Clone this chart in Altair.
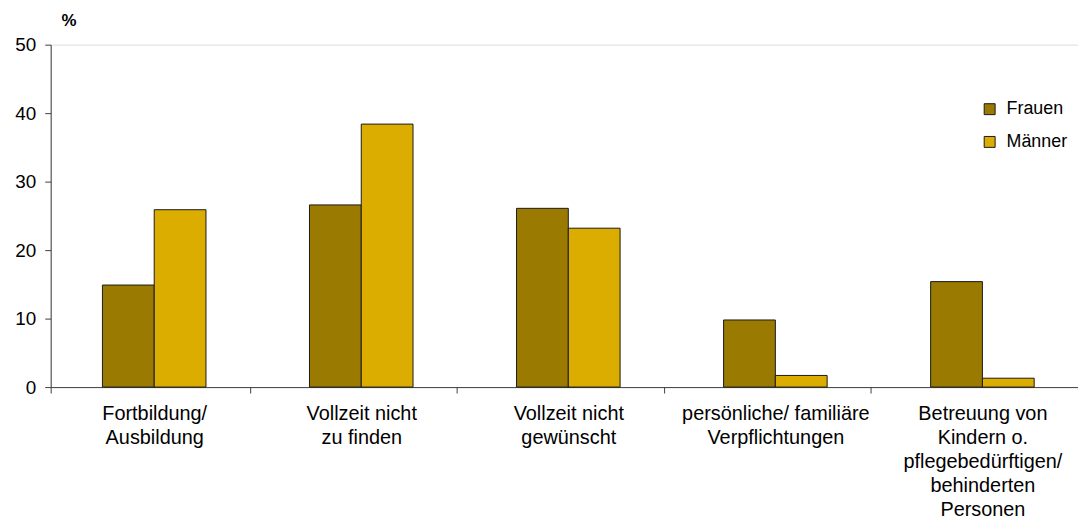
import altair as alt
import pandas as pd

categories = [
    "Fortbildung/|Ausbildung",
    "Vollzeit nicht|zu finden",
    "Vollzeit nicht|gewünscht",
    "persönliche/ familiäre|Verpflichtungen",
    "Betreuung von|Kindern o.|pflegebedürftigen/|behinderten|Personen",
]
frauen = [14.9, 26.6, 26.1, 9.8, 15.4]
maenner = [25.9, 38.4, 23.2, 1.7, 1.3]
series = ["Frauen", "Männer"]
colors = ["#9A7A00", "#DAAD00"]
y_ticks = [0, 10, 20, 30, 40, 50]

rows = []
for c, f, m in zip(categories, frauen, maenner):
    rows.append({"cat": c, "g": series[0], "v": f})
    rows.append({"cat": c, "g": series[1], "v": m})
df = pd.DataFrame(rows)

FONT = "Liberation Sans"
AXC = "#404040"
W, H = 1035, 345

chart = alt.Chart(df).mark_bar(stroke="#1a1a1a", strokeWidth=1).encode(
    x=alt.X(
        "cat:N",
        sort=categories,
        scale=alt.Scale(paddingInner=0.0383, paddingOuter=0, align=0),
        axis=alt.Axis(
            title=None,
            labelAngle=0,
            labelExpr="split(datum.label, '|')",
            tickBand="extent",
            labelOffset=4,
            tickSize=6,
            labelPadding=11,
            labelFontSize=20,
            labelLineHeight=24,
            labelLimit=400,
            labelColor="#000000",
            labelFont=FONT,
            domainColor=AXC,
            tickColor=AXC,
        ),
    ),
    xOffset=alt.XOffset(
        "g:N", sort=series,
        scale=alt.Scale(paddingInner=0, paddingOuter=0.923, align=0.5415),
    ),
    y=alt.Y(
        "v:Q",
        scale=alt.Scale(domain=[0, 50]),
        axis=alt.Axis(
            values=y_ticks,
            grid=False,
            title="%",
            titleAngle=0,
            titleX=18,
            titleY=-24,
            titleAlign="center",
            titleBaseline="middle",
            titleFontSize=17,
            titleFontWeight="bold",
            titleFont=FONT,
            titleColor="#000000",
            tickSize=6,
            labelPadding=9,
            labelFontSize=19,
            labelFont=FONT,
            labelColor="#000000",
            domainColor=AXC,
            tickColor=AXC,
        ),
    ),
    color=alt.Color(
        "g:N",
        sort=series,
        scale=alt.Scale(domain=series, range=colors),
        legend=alt.Legend(
            title=None,
            orient="none",
            legendX=937,
            legendY=56,
            symbolType="square",
            symbolSize=121,
            symbolStrokeColor="#1a1a1a",
            symbolStrokeWidth=1,
            symbolOpacity=1,
            labelFontSize=18,
            labelFont=FONT,
            labelColor="#000000",
            labelOffset=8,
            rowPadding=15,
        ),
    ),
).properties(
    width=W,
    height=H,
    autosize=alt.AutoSizeParams(type="none"),
    padding={"left": 43, "top": 35, "right": 0, "bottom": 135},
).configure_view(stroke=None).configure(font=FONT)

chart.save("out.html", embed_options={"renderer": "svg", "actions": False})
